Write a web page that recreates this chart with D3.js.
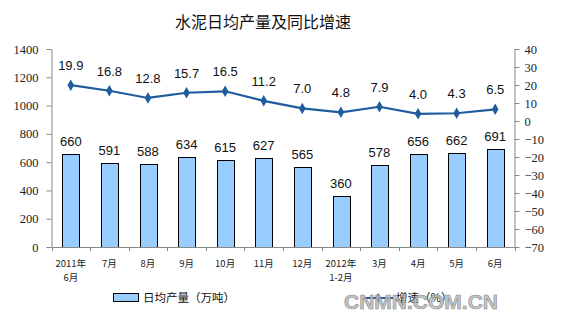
<!DOCTYPE html>
<html><head><meta charset="utf-8">
<script src="https://cdn.jsdelivr.net/npm/d3@7"></script>
<style>body{margin:0;background:#fff}svg{display:block}</style>
</head><body><svg id="c" width="561" height="333"></svg>
<script>
const categories = [["2011年","6月"],["7月"],["8月"],["9月"],["10月"],["11月"],["12月"],["2012年","1-2月"],["3月"],["4月"],["5月"],["6月"]];
const output = [660,591,588,634,615,627,565,360,578,656,662,691];
const growth = [19.9,16.8,12.8,15.7,16.5,11.2,7.0,4.8,7.9,4.0,4.3,6.5];
const leftTicks = [0,200,400,600,800,1000,1200,1400];
const rightTicks = [40,30,20,10,0,-10,-20,-30,-40,-50,-60,-70];
const title = "水泥日均产量及同比增速";
const legendBar = "日均产量（万吨）";
const legendLine = "增速（%）";

const svg = d3.select("#c");
const L=51.5, R=514.5, T=49, B=247;
const x = d3.scaleBand().domain(d3.range(categories.length)).range([L,R]).paddingInner(0.57).paddingOuter(0.285);
const yL = d3.scaleLinear().domain([0,1400]).range([B,T]);
const yR = d3.scaleLinear().domain([-70,40]).range([B,T]);
const serif = "'Liberation Serif','Times New Roman',serif";
const sans = "'Liberation Sans',Arial,sans-serif";
const cjk = "'Noto Sans CJK SC',sans-serif";

svg.append("text").attr("x",263).attr("y",28).attr("text-anchor","middle")
  .style("font-family",cjk).attr("font-size",16).attr("fill","#111").text(title);

// bars
svg.selectAll("rect.bar").data(output).join("rect").attr("class","bar")
  .attr("x",(d,i)=>Math.round(x(i))+0.5).attr("y",d=>Math.round(yL(d))+0.5)
  .attr("width",Math.round(x.bandwidth())).attr("height",d=>B-Math.round(yL(d)))
  .attr("fill","#99CCFF").attr("stroke","#000").attr("stroke-width",1);

// axes
const gl = svg.append("g").attr("transform",`translate(${L},0)`)
  .call(d3.axisLeft(yL).tickValues(leftTicks).tickSize(5).tickSizeOuter(0).tickFormat(d3.format("d")));
const gr = svg.append("g").attr("transform",`translate(${R},0)`)
  .call(d3.axisRight(yR).tickValues(rightTicks).tickSize(5).tickSizeOuter(0).tickFormat(d3.format("d")));
[gl,gr].forEach(g=>{
  g.attr("font-family",null).attr("font-size",null);
  g.selectAll("text").style("font-family",serif).style("font-size","12.5px").attr("fill","#222");
  g.select(".domain").attr("stroke","#888");
  g.selectAll(".tick line").attr("stroke","#888");
});
gl.selectAll("text").attr("x",-13);
gr.selectAll("text").attr("x",10);

// x axis
const gx = svg.append("g");
gx.append("line").attr("x1",L).attr("x2",R).attr("y1",B+0.5).attr("y2",B+0.5).attr("stroke","#888");
d3.range(categories.length+1).forEach(i=>{
  const xx = Math.round(L + i*(R-L)/categories.length)+0.5;
  gx.append("line").attr("x1",xx).attr("x2",xx).attr("y1",B).attr("y2",B+4).attr("stroke","#888");
});
categories.forEach((c,i)=>{
  const cx = x(i)+x.bandwidth()/2;
  c.forEach((t,j)=>{
    gx.append("text").attr("x",cx).attr("y",B+20+j*14).attr("text-anchor","middle")
      .style("font-family",cjk).style("font-size","9.5px").attr("fill","#222").text(t);
  });
});

// bar labels
svg.selectAll("text.bl").data(output).join("text").attr("class","bl")
  .attr("x",(d,i)=>x(i)+x.bandwidth()/2).attr("y",d=>yL(d)-8).attr("text-anchor","middle")
  .style("font-family",sans).attr("font-size",13).attr("fill","#111").text(d=>d);

// line
const lc = "#1F5C9E";
const line = d3.line().x((d,i)=>x(i)+x.bandwidth()/2).y(d=>yR(d));
svg.append("path").datum(growth).attr("d",line).attr("fill","none").attr("stroke",lc).attr("stroke-width",2.2);
svg.selectAll("path.mk").data(growth).join("path").attr("class","mk")
  .attr("d",d3.symbol().type(d3.symbolDiamond).size(38))
  .attr("transform",(d,i)=>`translate(${x(i)+x.bandwidth()/2},${yR(d)})`).attr("fill",lc);
svg.selectAll("text.ll").data(growth).join("text").attr("class","ll")
  .attr("x",(d,i)=>x(i)+x.bandwidth()/2).attr("y",d=>yR(d)-15).attr("text-anchor","middle")
  .style("font-family",sans).attr("font-size",13).attr("fill","#111").text(d=>d.toFixed(1));

// legend
svg.append("rect").attr("x",113.5).attr("y",293.5).attr("width",25).attr("height",8)
  .attr("fill","#99CCFF").attr("stroke","#000");
svg.append("text").attr("x",143).attr("y",302).style("font-family",cjk)
  .attr("font-size",11.5).attr("fill","#111").text(legendBar);
svg.append("line").attr("x1",364).attr("x2",393).attr("y1",298).attr("y2",298).attr("stroke",lc).attr("stroke-width",2);
svg.append("path").attr("d",d3.symbol().type(d3.symbolDiamond).size(30)).attr("transform","translate(378,298)").attr("fill",lc);
svg.append("text").attr("x",396).attr("y",302).style("font-family",cjk)
  .attr("font-size",11.5).attr("fill","#111").text(legendLine);

// watermark
svg.append("text").attr("x",421).attr("y",309).attr("text-anchor","middle")
  .style("font-family",sans).attr("font-weight","bold").attr("font-size",21)
  .attr("fill","#bbb").attr("fill-opacity",0.85).attr("stroke","#888").attr("stroke-width",0.6).text("CNMN.COM.CN");
</script></body></html>
